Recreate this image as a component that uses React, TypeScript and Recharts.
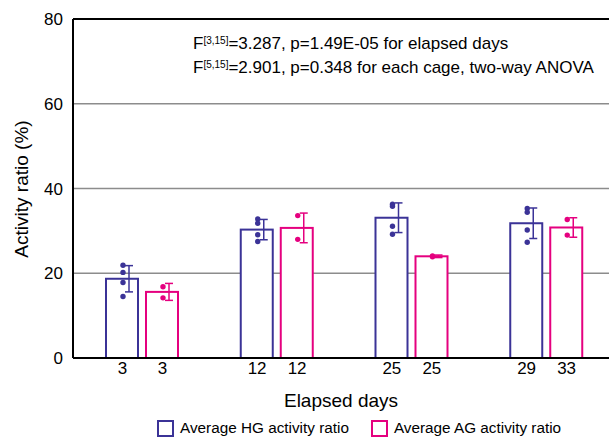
import React from "react";
import {
  ComposedChart,
  Bar,
  XAxis,
  YAxis,
  CartesianGrid,
  ReferenceLine,
} from "recharts";

const groups = ["G1", "G2", "G3", "G4"];
const hgDays = ["3", "12", "25", "29"];
const agDays = ["3", "12", "25", "33"];

const hgMean = [18.7, 30.3, 33.1, 31.8];
const hgErr = [3.1, 2.4, 3.5, 3.6];
const hgPoints = [
  [21.9, 20.2, 17.8, 14.5],
  [32.8, 31.8, 29.1, 27.5],
  [36.3, 35.8, 31.1, 29.2],
  [35.3, 34.4, 30.2, 27.3],
];

const agMean = [15.6, 30.7, 24.0, 30.8];
const agErr = [2.0, 3.5, 0.3, 2.3];
const agPoints = [
  [16.8, 14.2],
  [33.6, 28.0],
  [24.1, 23.9],
  [32.7, 29.0],
];

const HG = "#3b3397";
const AG = "#e5007f";
const FONT = "'Liberation Sans', Arial, sans-serif";

const rows = groups.map((g, i) => ({
  group: g,
  hg: hgMean[i],
  ag: agMean[i],
  hgErr: hgErr[i],
  agErr: agErr[i],
  hgPts: hgPoints[i],
  agPts: agPoints[i],
}));

// hollow bar + individual points + error bar, all placed with the bar's own scale
const barShape = (color: string, key: "hg" | "ag") => (props: any) => {
  const { x, y, width, height, payload } = props;
  const v = payload[key];
  const e = payload[key + "Err"];
  const pts: number[] = payload[key + "Pts"];
  const k = height / v;
  const base = y + height;
  const yOf = (d: number) => base - d * k;
  const cx = x + width / 2;
  const ex = cx + 7;
  return (
    <g>
      <rect
        x={x + 1}
        y={y}
        width={width - 2}
        height={height}
        fill="#fff"
        stroke={color}
        strokeWidth={2}
      />
      <line x1={ex} x2={ex} y1={yOf(v + e)} y2={yOf(v - e)} stroke={color} strokeWidth={1.5} />
      <line x1={ex - 4} x2={ex + 4} y1={yOf(v + e)} y2={yOf(v + e)} stroke={color} strokeWidth={1.5} />
      <line x1={ex - 4} x2={ex + 4} y1={yOf(v - e)} y2={yOf(v - e)} stroke={color} strokeWidth={1.5} />
      {pts.map((p, j) => (
        <circle key={j} cx={cx + 1} cy={yOf(p)} r={2.7} fill={color} />
      ))}
    </g>
  );
};

const DayTick = (props: any) => {
  const { x, y, payload } = props;
  const i = groups.indexOf(payload.value);
  return (
    <g fontFamily={FONT} fontSize={17} fill="#000">
      <text x={x - 20} y={y + 16} textAnchor="middle">
        {hgDays[i]}
      </text>
      <text x={x + 20} y={y + 16} textAnchor="middle">
        {agDays[i]}
      </text>
    </g>
  );
};

const sup = { fontSize: 10, verticalAlign: 5, lineHeight: 0 } as const;

export default function App() {
  return (
    <div
      style={{
        position: "absolute",
        left: 0,
        top: 0,
        width: 609,
        height: 439,
        overflow: "hidden",
        background: "#fff",
        fontFamily: FONT,
      }}
    >
      <ComposedChart
        width={614}
        height={439}
        data={rows}
        barSize={34}
        barGap={6}
        margin={{ top: 19, right: 0, left: 0, bottom: 0 }}
      >
        <CartesianGrid vertical={false} stroke="#8c8c8c" strokeWidth={1.3} />
        <ReferenceLine y={80} stroke="#000" strokeWidth={2} />
        <XAxis
          dataKey="group"
          height={81}
          tickLine={false}
          tickSize={0}
          tickMargin={0}
          padding={{ left: 2, right: 0 }}
          axisLine={{ stroke: "#000", strokeWidth: 2 }}
          tick={<DayTick />}
          label={{
            content: () => (
              <text x={341} y={407} textAnchor="middle" fontFamily={FONT} fontSize={19} fill="#000">
                Elapsed days
              </text>
            ),
          }}
        />
        <YAxis
          width={73}
          domain={[0, 80]}
          ticks={[0, 20, 40, 60, 80]}
          tickLine={false}
          tickSize={0}
          tickMargin={10}
          axisLine={{ stroke: "#000", strokeWidth: 2 }}
          tick={{ fontSize: 17, fill: "#000", fontFamily: FONT }}
          label={{
            content: () => (
              <text
                x={28}
                y={189}
                transform="rotate(-90 28 189)"
                textAnchor="middle"
                fontFamily={FONT}
                fontSize={19}
                fill="#000"
              >
                Activity ratio (%)
              </text>
            ),
          }}
        />
        <Bar dataKey="hg" shape={barShape(HG, "hg")} isAnimationActive={false} />
        <Bar dataKey="ag" shape={barShape(AG, "ag")} isAnimationActive={false} />
      </ComposedChart>

      <div style={{ position: "absolute", left: 193, top: 35, fontSize: 17, lineHeight: "17px", color: "#000", whiteSpace: "nowrap" }}>
        F<span style={sup}>[3,15]</span>=3.287, p=1.49E-05 for elapsed days
      </div>
      <div style={{ position: "absolute", left: 193, top: 59, fontSize: 17, lineHeight: "17px", color: "#000", whiteSpace: "nowrap" }}>
        F<span style={sup}>[5,15]</span>=2.901, p=0.348 for each cage, two-way ANOVA
      </div>

      <div style={{ position: "absolute", left: 157, top: 419, display: "flex", alignItems: "center", fontSize: 15.3, color: "#000", whiteSpace: "nowrap" }}>
        <span style={{ width: 13, height: 13, border: `2px solid ${HG}`, display: "inline-block" }} />
        <span style={{ marginLeft: 6 }}>Average HG activity ratio</span>
        <span style={{ width: 13, height: 13, border: `2px solid ${AG}`, display: "inline-block", marginLeft: 22 }} />
        <span style={{ marginLeft: 6 }}>Average AG activity ratio</span>
      </div>
    </div>
  );
}
